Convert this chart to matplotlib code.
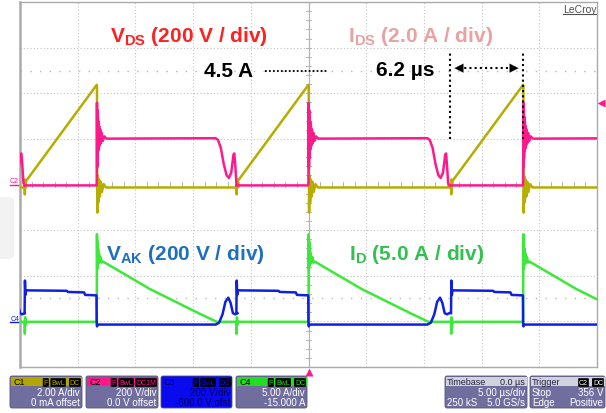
import numpy as np
import matplotlib.pyplot as plt
from matplotlib.patches import FancyBboxPatch, Rectangle

plt.rcParams['font.family'] = ['Liberation Sans', 'DejaVu Sans']
plt.rcParams['mathtext.fontset'] = 'custom'
plt.rcParams['mathtext.rm'] = 'Liberation Sans'
plt.rcParams['mathtext.bf'] = 'Liberation Sans:bold'

# switching events (us, trigger at 0)
turn_off_us = [-36.8, -18.35, 0.0, 18.6]

# one switching cycle per channel, time relative to turn-off (us)
ids_t = [-6.25, -6.23, -6.2, -6.17, -6.1, 0.0, 0.02, 0.05, 0.09, 0.14, 0.2, 0.27, 0.35, 0.45, 0.6, 0.8, 12.2]
ids_a = [0.0, -0.35, 0.3, 0.05, 0.25, 4.45, 4.4, -1.15, 0.45, -0.7, 0.3, -0.45, 0.2, -0.25, 0.1, -0.05, -0.05]

vds_t = [-6.25, -0.02, 0.0, 0.02, 0.04, 0.06, 0.08, 0.1, 0.12, 0.15, 0.18, 0.21, 0.25, 0.3, 0.36, 0.43,
         0.52, 0.65, 0.85, 10.3, 10.5, 10.75, 11.0, 11.25, 11.45, 11.65, 11.85, 11.92, 12.0, 12.1, 12.2]
vds_v = [0, 0, 20, 362, 80, 330, 120, 300, 150, 280, 160, 260, 175, 245, 185, 230,
         195, 215, 205, 207, 200, 165, 95, 45, 33, 55, 135, 140, 90, 10, 0]

vak_t = [-6.25, -6.22, -6.18, -6.12, -2.6, -2.5, -1.1, -1.0, -0.02, 0.0, 0.03, 0.06,
         10.3, 10.6, 10.9, 11.15, 11.4, 11.6, 11.8, 12.0, 12.2]
vak_v = [50, 193, 130, 150, 148, 143, 141, 130, 128, 0, -8, 0,
         0, 8, 45, 100, 118, 95, 50, 45, 50]

id_t = [-6.25, -6.23, -6.2, -6.16, -6.1, -0.02, 0.0, 0.02, 0.04, 0.06, 0.09, 0.12, 0.16, 0.2, 0.26,
        0.33, 0.42, 0.55, 4.6, 8.9, 10.4, 12.2]
id_a = [0.0, -1.3, 0.5, -0.3, 0.0, 0.0, 0.5, 9.6, 5.8, 8.8, 6.2, 8.0, 6.4, 7.5, 6.5,
        7.1, 6.5, 6.6, 3.6, 0.9, 0.0, 0.0]

# channel settings: per-div scale and zero level (div from bottom)
c1_scale, c1_zero = 2.0, 3.96
c2_scale, c2_zero = 200.0, 3.98
c3_scale, c3_zero = 200.0, 0.93
c4_scale, c4_zero = 5.0, 0.99

YEL, MAG, BLU, GRN = '#b5ad00', '#ff1a8c', '#1020e0', '#3ce83a'

fig = plt.figure(figsize=(6.06, 4.14), dpi=100)
ui = fig.add_axes([0, 0, 1, 1])
ui.set_xlim(0, 606)
ui.set_ylim(414, 0)
ui.axis('off')

ax = fig.add_axes([20 / 606, 46 / 414, 577 / 606, 365 / 414])
ax.set_facecolor('none')
ax.set_xlim(-25, 25)
ax.set_ylim(0, 8)
ax.set_xticks([])
ax.set_yticks([])
for s in ax.spines.values():
    s.set_color('#aaaaaa')
    s.set_linewidth(1.0)
ax.spines['left'].set_linewidth(1.8)

# graticule
for x in [-20, -15, -10, -5, 5, 10, 15, 20]:
    ax.axvline(x, color='#c4c4c4', lw=0.8, ls=(0, (1, 2)), zorder=0)
for y in [1, 2, 3, 5, 6, 7]:
    ax.axhline(y, color='#c4c4c4', lw=0.8, ls=(0, (1, 2)), zorder=0)
ax.axvline(0, color='#b4b4b4', lw=0.9, zorder=0)
for y in np.arange(0.2, 8, 0.2):
    ax.plot([-0.18, 0.18], [y, y], color='#b4b4b4', lw=0.7, zorder=0)
for x in np.arange(-24, 25, 1.0):
    ax.plot([x, x], [3.95, 4.05], color='#b4b4b4', lw=0.7, zorder=0)
for y in [6.49, 1.51]:
    ax.axhline(y, color='#b8b8b8', lw=1.0, ls=(0, (1, 6)), zorder=0)

# faint patch on the left edge
ui.add_patch(FancyBboxPatch((-6, 198), 20, 62, boxstyle='round,pad=0,rounding_size=6',
                            fc='#f2f2f2', ec='none', zorder=0))


def draw(tt, vv, scale, zero, color):
    for t0 in turn_off_us:
        t = np.array(tt) + t0
        y = zero + np.array(vv) / scale
        ax.plot(t, y, color=color, lw=1.8, zorder=3)


draw(ids_t, ids_a, c1_scale, c1_zero, YEL)
draw(vds_t, vds_v, c2_scale, c2_zero, MAG)
draw(id_t, id_a, c4_scale, c4_zero, GRN)
draw(vak_t, vak_v, c3_scale, c3_zero, BLU)

# channel labels
fs = 15
ax.text(-17.19, 7.15, r'V$_\mathbf{DS}$ (200 V / div)', color='#ff2020', fontsize=fs,
        fontweight='bold', ha='left', va='baseline', zorder=5)
ax.text(3.42, 7.15, r'I$_\mathbf{DS}$ (2.0 A / div)', color='#e8a2a2', fontsize=fs,
        fontweight='bold', ha='left', va='baseline', zorder=5)
ax.text(-17.55, 2.37, r'V$_\mathbf{AK}$ (200 V / div)', color='#1f6fc0', fontsize=fs,
        fontweight='bold', ha='left', va='baseline', zorder=5)
ax.text(3.51, 2.37, r'I$_\mathbf{D}$ (5.0 A / div)', color='#2fc24f', fontsize=fs,
        fontweight='bold', ha='left', va='baseline', zorder=5)

# annotations
ax.text(-9.06, 6.38, '4.5 A', fontsize=fs, fontweight='bold', ha='left', va='baseline', zorder=5)
ax.plot([-3.77, 1.6], [6.49, 6.49], color='black', lw=1.3, ls=(0, (1, 1.2)), zorder=5)
ax.text(5.85, 6.40, '6.2 µs', fontsize=fs, fontweight='bold', ha='left', va='baseline', zorder=5)
for x in [12.25, 18.6]:
    ax.plot([x, x], [5.0, 6.93], color='black', lw=1.5, ls=(0, (1, 1.5)), zorder=5)
ax.plot([13.0, 17.8], [6.55, 6.55], color='black', lw=1.5, ls=(0, (1, 1.5)), zorder=5)
ax.annotate('', xy=(12.4, 6.55), xytext=(13.4, 6.55),
            arrowprops=dict(arrowstyle='-|>', color='black', lw=0.1, mutation_scale=16), zorder=5)
ax.annotate('', xy=(18.45, 6.55), xytext=(17.45, 6.55),
            arrowprops=dict(arrowstyle='-|>', color='black', lw=0.1, mutation_scale=16), zorder=5)

ui.text(597, 13, 'LeCroy', fontsize=7.5, color='#505050', ha='right', va='baseline')
ui.plot([563, 597], [15, 15], color='#505050', lw=0.8)

# channel markers on the left edge and trigger markers
ui.plot([10, 20], [185.5, 185.5], color=MAG, lw=1)
ui.text(10, 183, 'C2', fontsize=5, color=MAG, ha='left', va='baseline')
ui.plot([10, 20], [323, 323], color=BLU, lw=1)
ui.text(11, 321, 'C4', fontsize=5, color=BLU, ha='left', va='baseline')
ui.plot([309], [373], marker='^', ms=6, color=MAG, mec='none')
ui.plot([601], [104], marker='<', ms=6, color=MAG, mec='none')

# info boxes along the bottom
BODY = '#706e9e'
TAG_W = {'F': 7, 'BwL': 15, 'DC': 13, 'DC1M': 21}


def chan_box(x0, x1, head, name, tags, l1, l2, body=BODY, txt='white', name_col='black'):
    ui.add_patch(FancyBboxPatch((x0, 377), x1 - x0, 32, boxstyle='round,pad=0,rounding_size=2',
                                fc=body, ec='#555577', lw=0.6))
    ui.add_patch(Rectangle((x0 + 0.5, 377.5), x1 - x0 - 1, 9, fc=head, ec='none'))
    ui.text(x0 + 3, 385, name, fontsize=6.5, color=name_col, ha='left', va='baseline')
    xr = x1 - 2
    for tag in reversed(tags):
        ui.text(xr, 385, tag, fontsize=5, color=head, ha='right', va='baseline',
                bbox=dict(boxstyle='round,pad=0.12', fc='black', ec='none'))
        xr -= TAG_W[tag] + 2
    ui.text(x1 - 2, 396, l1, fontsize=7, color=txt, ha='right', va='baseline')
    ui.text(x1 - 2, 406, l2, fontsize=7, color=txt, ha='right', va='baseline')


chan_box(10, 82, '#b3a600', 'C1', ['F', 'BwL', 'DC'], '2.00 A/div', '0 mA offset')
chan_box(86, 158, '#ff1a8c', 'C2', ['F', 'BwL', 'DC1M'], '200 V/div', '0.0 V offset')
chan_box(161, 232, '#0a0aee', 'C3', ['F', 'BwL', 'DC'], '200 V/div', '-600.0 V ofst',
         body='#0a0aee', txt='#000060', name_col='#000060')
chan_box(236, 307, '#22dd22', 'C4', ['F', 'BwL', 'DC'], '5.00 A/div', '-15.000 A')

# timebase / trigger boxes
for x0, x1 in [(445, 527), (530, 605)]:
    ui.add_patch(FancyBboxPatch((x0, 377), x1 - x0, 32, boxstyle='round,pad=0,rounding_size=2',
                                fc=BODY, ec='#555577', lw=0.6))
    ui.add_patch(Rectangle((x0 + 0.5, 377.5), x1 - x0 - 1, 9, fc='#d2d2de', ec='none'))
ui.text(447, 385, 'Timebase', fontsize=6.5, color='#202040', ha='left', va='baseline')
ui.text(525, 385, '0.0 µs', fontsize=6.5, color='#202040', ha='right', va='baseline')
ui.text(525, 396, '5.00 µs/div', fontsize=7, color='white', ha='right', va='baseline')
ui.text(447, 406, '250 kS', fontsize=7, color='white', ha='left', va='baseline')
ui.text(525, 406, '5.0 GS/s', fontsize=7, color='white', ha='right', va='baseline')
ui.text(532, 385, 'Trigger', fontsize=6.5, color='#202040', ha='left', va='baseline')
ui.text(603, 385, 'DC', fontsize=5, color='white', ha='right', va='baseline',
        bbox=dict(boxstyle='round,pad=0.12', fc='black', ec='none'))
ui.text(588, 385, 'C2', fontsize=5, color='white', ha='right', va='baseline',
        bbox=dict(boxstyle='round,pad=0.12', fc='black', ec='none'))
ui.text(532, 396, 'Stop', fontsize=7, color='white', ha='left', va='baseline')
ui.text(603, 396, '356 V', fontsize=7, color='white', ha='right', va='baseline')
ui.text(532, 406, 'Edge', fontsize=7, color='white', ha='left', va='baseline')
ui.text(603, 406, 'Positive', fontsize=7, color='white', ha='right', va='baseline')

fig.savefig('out.png', dpi=100)
